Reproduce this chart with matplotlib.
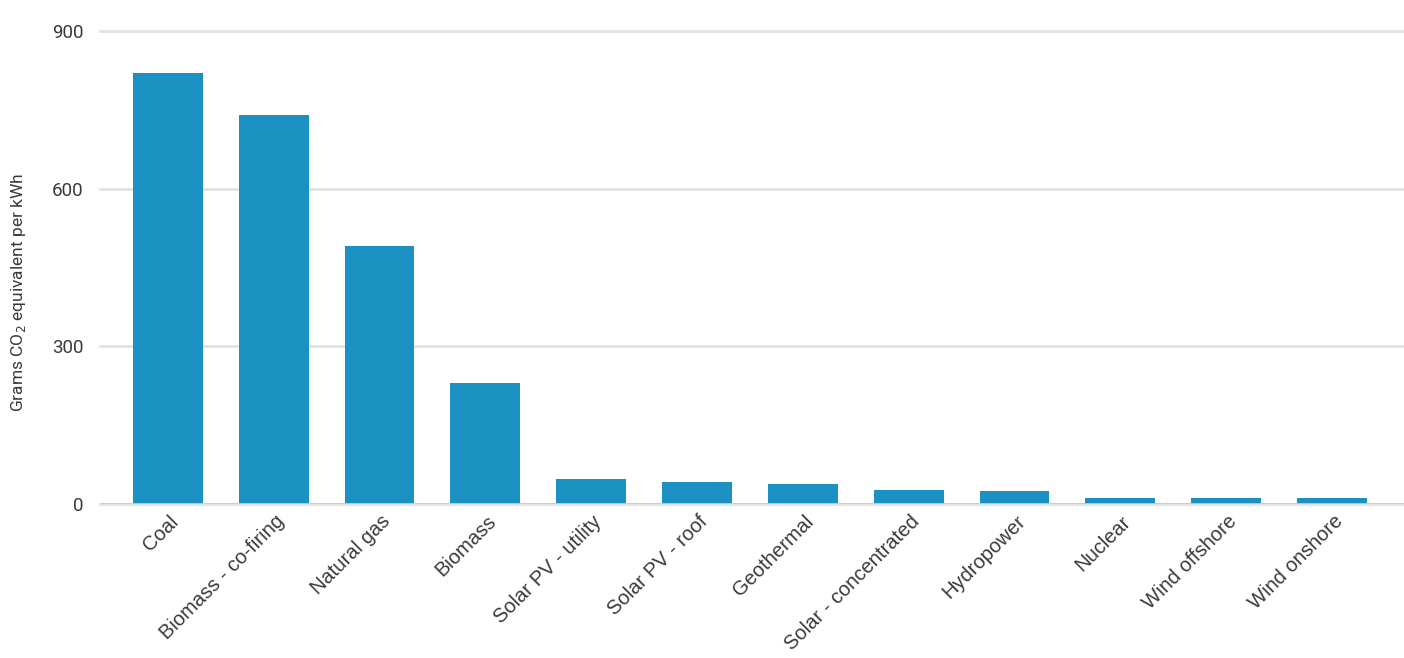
import matplotlib.pyplot as plt
from matplotlib.transforms import ScaledTranslation

plt.rcParams['font.family'] = ['Roboto', 'DejaVu Sans']

sources = ['Coal', 'Biomass - co-firing', 'Natural gas', 'Biomass', 'Solar PV - utility',
           'Solar PV - roof', 'Geothermal', 'Solar - concentrated', 'Hydropower', 'Nuclear',
           'Wind offshore', 'Wind onshore']
emissions = [820, 740, 490, 230, 48, 41, 38, 27, 24, 12, 12, 11]
yticks = [0, 300, 600, 900]

bar_color = '#1a91c1'
text_color = '#3a3a3a'

fig = plt.figure(figsize=(14.04, 6.58), dpi=100)
ax = fig.add_axes([100 / 1404, 154 / 658, 1304 / 1404, 473 / 658])

ax.bar(range(len(sources)), emissions, width=0.66, color=bar_color, zorder=3)

ax.set_xlim(-0.64, len(sources) - 1 + 0.68)
ax.set_ylim(0, 900)
ax.set_yticks(yticks)
ax.set_yticklabels([str(v) for v in yticks], fontsize=13.5, color=text_color)
ax.grid(axis='y', color='#e2e2e2', linewidth=2, zorder=0)
for line in ax.get_ygridlines():
    line.set_clip_on(False)
ax.axhline(0, color='#cccccc', linewidth=2, zorder=4)
for s in ax.spines.values():
    s.set_visible(False)
ax.tick_params(axis='both', length=0)
ax.tick_params(axis='y', pad=12)

ax.set_xticks(range(len(sources)))
ax.set_xticklabels(sources, rotation=45, ha='right', rotation_mode='anchor',
                   fontsize=14.5, color=text_color, family=['Liberation Sans', 'DejaVu Sans'])
offset = ScaledTranslation(1 / 100, -3 / 100, fig.dpi_scale_trans)
for lbl in ax.get_xticklabels():
    lbl.set_transform(lbl.get_transform() + offset)

ax.set_ylabel('Grams CO$_2$ equivalent per kWh', fontsize=12.5, color=text_color)
ax.yaxis.set_label_coords(-0.055, 0.448)

fig.savefig('out.png', dpi=100)
